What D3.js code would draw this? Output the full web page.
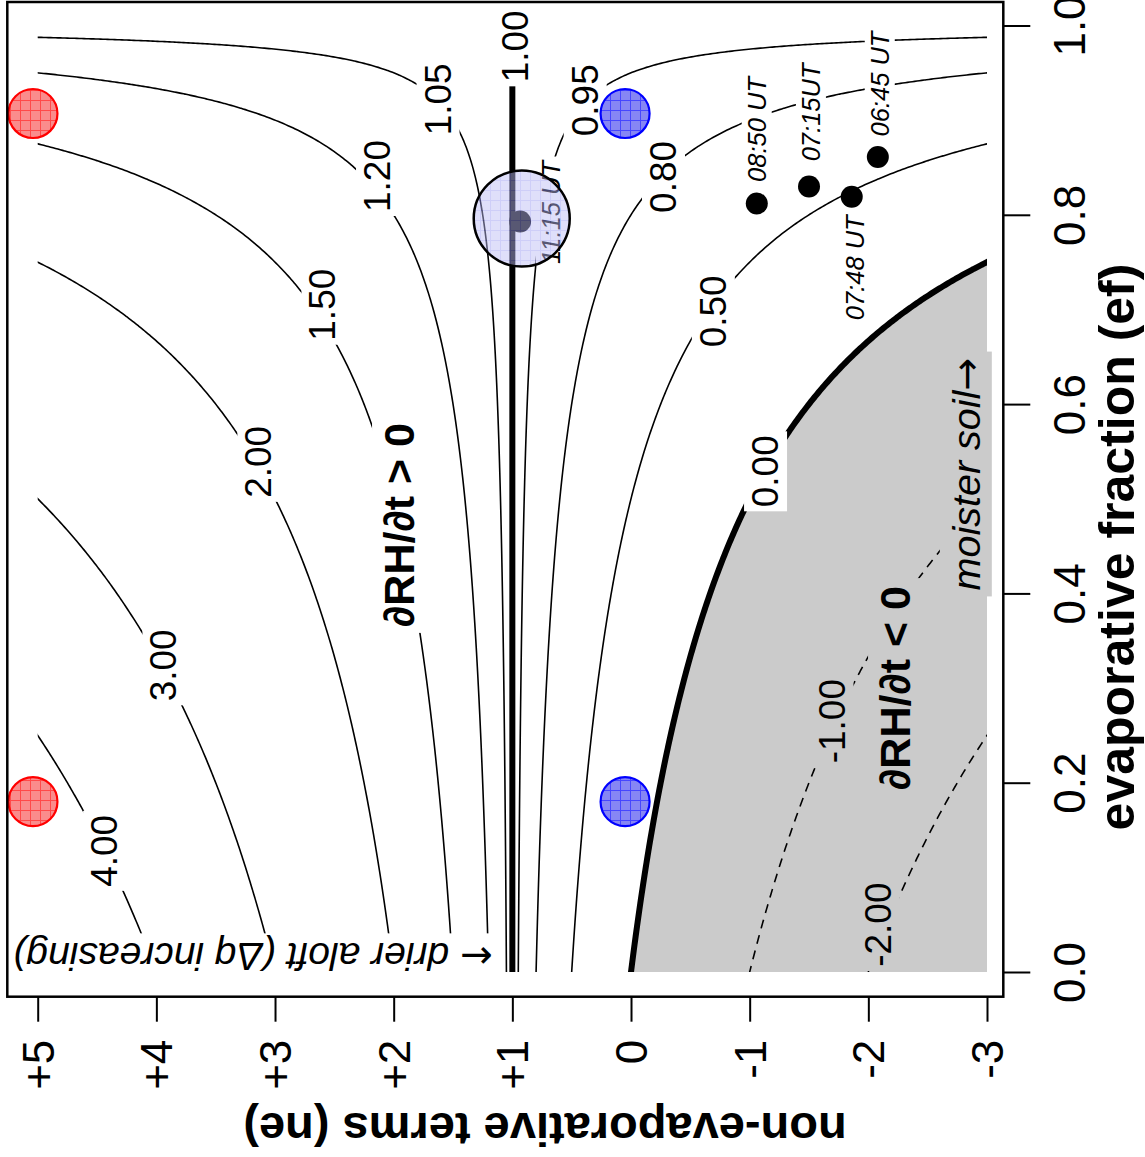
<!DOCTYPE html>
<html>
<head>
<meta charset="utf-8">
<title>RH tendency: ne vs ef</title>
<script src="https://d3js.org/d3.v7.min.js"></script>
<style>
    body { margin: 0; background: #fff; }
    text { font-family: "Liberation Sans", Arial, Helvetica, sans-serif; fill: #000; }
    .contour { fill: none; stroke: #000; stroke-linejoin: round; }
    .arrow { font-family: "DejaVu Sans", sans-serif; font-style: normal; }
</style>
</head>
<body>
<svg width="1145" height="1157"></svg>
<script>
    // contour levels and their labels
    var levels = [-2, -1, 0, 0.5, 0.8, 0.95, 1, 1.05, 1.2, 1.5, 2, 3, 4];
    var levelText = ["-2.00", "-1.00", "0.00", "0.50", "0.80", "0.95", "1.00", "1.05", "1.20", "1.50", "2.00", "3.00", "4.00"];
    // where each contour label sits (ne, ef)
    var labelNe = [-2.08, -1.69, -1.13, -0.69, -0.27, 0.39, 0.98, 1.63, 2.14, 2.60, 3.14, 3.94, 4.44];
    var labelEf = [0.050, 0.265, 0.529, 0.698, 0.840, 0.921, 0.978, 0.922, 0.841, 0.705, 0.539, 0.324, 0.128];

    // axes
    var neTicks = [5, 4, 3, 2, 1, 0, -1, -2, -3];
    var neTickText = ["+5", "+4", "+3", "+2", "+1", "0", "-1", "-2", "-3"];
    var efTicks = [0, 0.2, 0.4, 0.6, 0.8, 1.0];
    var efTickText = ["0.0", "0.2", "0.4", "0.6", "0.8", "1.0"];

    // observed morning states
    var obsTime = ["06:45 UT", "07:15UT", "07:48 UT", "08:50 UT", "11:15 UT"];
    var obsNe = [-2.08, -1.50, -1.86, -1.06, 0.935];
    var obsEf = [0.861, 0.830, 0.819, 0.812, 0.793];

    // regime markers
    var dryNe = [5.04, 5.04], dryEf = [0.907, 0.180];
    var wetNe = [0.05, 0.05], wetEf = [0.907, 0.180];
    var noonNe = [0.921], noonEf = [0.796];

    // ratio plotted by the contours: dRH/dt sign changes at 0
    function ratio(ne, ef) {
        return ef + ne * (1 - ef);
    }

    var svg = d3.select("svg");
    var frame = {left: 7.3, right: 1003.3, top: 2, bottom: 996.7};

    var x = d3.scaleLinear().domain([5, -3]).range([37.7, 987]);
    var y = d3.scaleLinear().domain([0, 1]).range([972, 25.5]);

    var defs = svg.append("defs");
    defs.append("clipPath").attr("id", "grid-clip")
        .append("rect")
        .attr("x", x(5)).attr("y", y(0.99))
        .attr("width", x(-3) - x(5)).attr("height", y(0) - y(0.99));

    function mesh(id, base, line) {
        var p = defs.append("pattern").attr("id", id)
            .attr("patternUnits", "userSpaceOnUse").attr("width", 10).attr("height", 10);
        p.append("rect").attr("width", 10).attr("height", 10).attr("fill", base);
        p.append("path").attr("d", "M0,0.5H10M0.5,0V10").attr("stroke", line).attr("stroke-width", 1);
    }
    mesh("mesh-red", "#fa8c8c", "#ff4a4a");
    mesh("mesh-blue", "#8686f4", "#4646ff");
    mesh("mesh-noon", "rgb(187,187,244)", "rgb(150,150,240)");

    // grid a bit wider than the plotted range so ring edges fall outside the clip
    var dNe = 0.02, dEf = 0.005, ne0 = -3.05, ef0 = -0.0125;
    var nx = Math.round((5.05 - ne0) / dNe) + 1;
    var ny = 202;
    var values = new Float64Array(nx * ny);
    for (var j = 0; j < ny; j++) {
        for (var i = 0; i < nx; i++) {
            values[j * nx + i] = ratio(ne0 + i * dNe, ef0 + j * dEf);
        }
    }

    var toScreen = d3.geoTransform({
        point: function (cx, cy) {
            this.stream.point(x(ne0 + (cx - 0.5) * dNe), y(ef0 + (cy - 0.5) * dEf));
        }
    });
    var path = d3.geoPath(toScreen);

    var plot = svg.append("g").attr("clip-path", "url(#grid-clip)");

    // shaded region: ratio <= 0
    var negative = d3.contours().size([nx, ny]).thresholds([0])(values.map(function (v) { return -v; }));
    plot.append("path")
        .attr("d", path(negative[0]))
        .attr("fill", "#cbcbcb");

    var lines = d3.contours().size([nx, ny]).thresholds(levels)(values);
    plot.selectAll("path.contour")
        .data(lines)
        .enter().append("path")
        .attr("class", "contour")
        .attr("d", path)
        .attr("stroke-width", function (d) { return (d.value === 0 || d.value === 1) ? 6 : 1.6; })
        .attr("stroke-dasharray", function (d) { return d.value < 0 ? "9,7" : null; });

    // text on a filled box; arrows are set in a font with a long arrow glyph
    function boxedLabel(px, py, angle, str, o) {
        var g = svg.append("g").attr("transform", "translate(" + px + "," + py + ") rotate(" + angle + ")");
        var rect = g.append("rect");
        var t = g.append("text")
            .attr("text-anchor", "middle").attr("dy", "0.35em")
            .style("font-size", o.size + "px")
            .style("font-style", o.italic ? "italic" : null)
            .style("font-weight", o.bold ? "bold" : null);
        t.selectAll("tspan")
            .data(str.split(/([\u2190\u2192])/).filter(function (s) { return s.length; }))
            .enter().append("tspan")
            .attr("class", function (s) { return /[\u2190\u2192]/.test(s) ? "arrow" : null; })
            .text(function (s) { return s; });
        var b = t.node().getBBox();
        rect.attr("x", b.x - o.padAlong).attr("y", b.y - o.padAcross)
            .attr("width", b.width + 2 * o.padAlong).attr("height", b.height + 2 * o.padAcross)
            .attr("fill", o.bg || "#fff");
        return g;
    }

    levels.forEach(function (l, k) {
        boxedLabel(x(labelNe[k]), y(labelEf[k]), -90, levelText[k],
            {size: 37, padAlong: 4, padAcross: 1, bg: l < 0 ? "#cbcbcb" : "#fff"});
    });

    boxedLabel(399, 525, -90, "\u2202RH/\u2202t > 0", {size: 43, bold: true, padAlong: 6, padAcross: 3});
    boxedLabel(895, 688, -90, "\u2202RH/\u2202t < 0", {size: 43, bold: true, padAlong: 8, padAcross: 3, bg: "#cbcbcb"});
    boxedLabel(966, 474, -90, "moister soil\u2192", {size: 39.5, italic: true, padAlong: 6, padAcross: 3, bg: "#cbcbcb"});
    boxedLabel(253, 957, 180, "\u2190 drier aloft (\u0394q increasing)", {size: 39, italic: true, padAlong: 8, padAcross: 1});

    // observations
    var timeShift = {"06:45 UT": [2, -73], "07:15UT": [2, -74], "07:48 UT": [3, 71], "08:50 UT": [0, -74], "11:15 UT": [31, -9]};
    obsTime.forEach(function (name, k) {
        var px = x(obsNe[k]), py = y(obsEf[k]);
        boxedLabel(px + timeShift[name][0], py + timeShift[name][1], -90, name,
            {size: 25.5, italic: true, padAlong: 2, padAcross: 1});
    });
    svg.append("g").selectAll("circle")
        .data(obsTime)
        .enter().append("circle")
        .attr("cx", function (d, k) { return x(obsNe[k]); })
        .attr("cy", function (d, k) { return y(obsEf[k]); })
        .attr("r", 11)
        .attr("fill", "#000");

    svg.append("g").selectAll("circle")
        .data(noonNe)
        .enter().append("circle")
        .attr("cx", function (d) { return x(d); })
        .attr("cy", function (d, k) { return y(noonEf[k]); })
        .attr("r", 48)
        .attr("fill", "url(#mesh-noon)")
        .attr("fill-opacity", 0.47)
        .attr("stroke", "#000")
        .attr("stroke-width", 2.5);

    function markers(neArr, efArr, fill, stroke) {
        svg.append("g").selectAll("circle")
            .data(neArr)
            .enter().append("circle")
            .attr("cx", function (d) { return x(d); })
            .attr("cy", function (d, k) { return y(efArr[k]); })
            .attr("r", 24.5)
            .attr("fill", fill)
            .attr("stroke", stroke)
            .attr("stroke-width", 2.2);
    }
    markers(dryNe, dryEf, "url(#mesh-red)", "#ff0000");
    markers(wetNe, wetEf, "url(#mesh-blue)", "#0000ff");

    // frame
    svg.append("rect")
        .attr("x", frame.left).attr("y", frame.top)
        .attr("width", frame.right - frame.left).attr("height", frame.bottom - frame.top)
        .attr("fill", "none").attr("stroke", "#000").attr("stroke-width", 2.5);

    // bottom axis (ne)
    var gx = svg.append("g")
        .attr("transform", "translate(0," + frame.bottom + ")")
        .call(d3.axisBottom(x).tickValues(neTicks)
            .tickFormat(function (d) { return neTickText[neTicks.indexOf(d)]; })
            .tickSize(25).tickSizeOuter(0));
    gx.select(".domain").remove();
    gx.selectAll(".tick line").attr("stroke", "#000").attr("stroke-width", 2);
    gx.selectAll(".tick text")
        .attr("transform", "rotate(-90)")
        .attr("x", -43).attr("y", 0).attr("dy", "0.35em")
        .attr("text-anchor", "end")
        .style("font-size", "44px");

    // right axis (ef)
    var gy = svg.append("g")
        .attr("transform", "translate(" + frame.right + ",0)")
        .call(d3.axisRight(y).tickValues(efTicks)
            .tickFormat(function (d) { return efTickText[efTicks.indexOf(d)]; })
            .tickSize(27).tickSizeOuter(0));
    gy.select(".domain").remove();
    gy.selectAll(".tick line").attr("stroke", "#000").attr("stroke-width", 2);
    gy.selectAll(".tick text")
        .attr("transform", "rotate(-90)")
        .attr("x", 0).attr("y", 82).attr("dy", 0)
        .attr("text-anchor", "middle")
        .style("font-size", "44px");

    svg.append("text")
        .attr("transform", "translate(1134,547) rotate(-90)")
        .attr("text-anchor", "middle")
        .style("font-size", "50px").style("font-weight", "bold")
        .text("evaporative fraction (ef)");

    svg.append("text")
        .attr("transform", "translate(545,1113) rotate(180)")
        .attr("text-anchor", "middle")
        .style("font-size", "47px").style("font-weight", "bold")
        .text("non-evaporative terms (ne)");
</script>
</body>
</html>
